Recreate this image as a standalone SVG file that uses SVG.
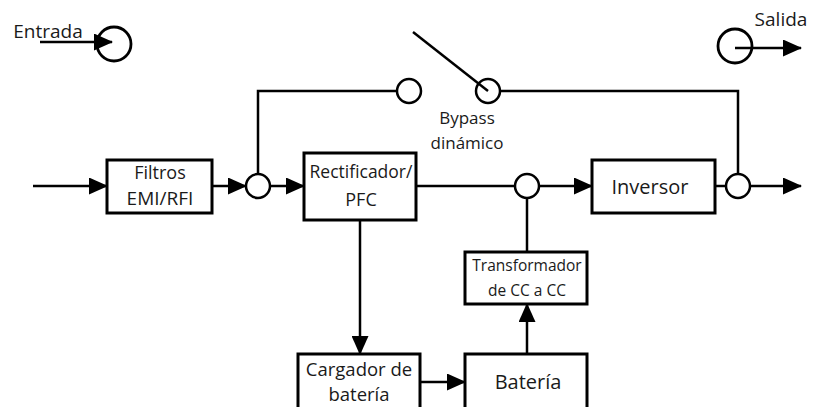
<svg xmlns="http://www.w3.org/2000/svg" width="814" height="407" viewBox="0 0 814 407">
<defs>
<marker id="ah" markerWidth="19" markerHeight="17" refX="18" refY="8.5" orient="auto" markerUnits="userSpaceOnUse">
<path d="M0,0 L19,8.5 L0,17 Z" fill="#000"/>
</marker>
<style>
.box{fill:#fff;stroke:#000;stroke-width:3}
.ln{fill:none;stroke:#000;stroke-width:2.5}
.nd{fill:#fff;stroke:#000;stroke-width:2.5}
.ring{fill:none;stroke:#000;stroke-width:2.8}
text{font-family:"Open Sans","Liberation Sans",sans-serif;font-size:18px;fill:#1a1a1a;text-anchor:middle}
</style>
</defs>
<rect width="814" height="407" fill="#fff"/>
<g id="connectors">
<line class="ln" x1="40" y1="42" x2="112" y2="42" marker-end="url(#ah)"/>
<line class="ln" x1="735" y1="48" x2="801" y2="48" marker-end="url(#ah)"/>
<line class="ln" x1="33" y1="186" x2="107" y2="186" marker-end="url(#ah)"/>
<line class="ln" x1="212" y1="186" x2="246" y2="186" marker-end="url(#ah)"/>
<line class="ln" x1="270" y1="186" x2="304" y2="186" marker-end="url(#ah)"/>
<polyline class="ln" points="258,174 258,91 397,91"/>
<line class="ln" x1="416" y1="186" x2="514" y2="186"/>
<line class="ln" x1="539" y1="186" x2="592" y2="186" marker-end="url(#ah)"/>
<line class="ln" x1="715" y1="186" x2="726" y2="186"/>
<line class="ln" x1="750" y1="186" x2="801" y2="186" marker-end="url(#ah)"/>
<polyline class="ln" points="500,91 738,91 738,174"/>
<line class="ln" x1="360" y1="220" x2="360" y2="354" marker-end="url(#ah)"/>
<line class="ln" x1="420" y1="382" x2="465" y2="382" marker-end="url(#ah)"/>
<line class="ln" x1="527" y1="354" x2="527" y2="304" marker-end="url(#ah)"/>
<line class="ln" x1="527" y1="252" x2="527" y2="198"/>
</g>
<g id="entrada">
<circle class="ring" cx="114" cy="44" r="17"/>
<text x="48" y="38" style="font-size:19px">Entrada</text>
</g>
<g id="salida">
<circle class="ring" cx="735" cy="46" r="17"/>
<text x="781" y="26" style="font-size:19px">Salida</text>
</g>
<g id="node-j1"><circle class="nd" cx="258" cy="186" r="12"/></g>
<g id="node-j2"><circle class="nd" cx="527" cy="186" r="12"/></g>
<g id="node-j3"><circle class="nd" cx="738" cy="186" r="12"/></g>
<g id="bypass-a"><circle class="nd" cx="409" cy="91" r="12"/></g>
<g id="bypass-b"><circle class="nd" cx="488" cy="91" r="12"/>
<line class="ln" x1="413" y1="32" x2="488" y2="91"/>
<text x="467" y="124" style="font-size:17px">Bypass</text>
<text x="467" y="149" style="font-size:17px">dinámico</text>
</g>
<g id="filtros">
<rect class="box" x="107" y="160" width="105" height="53"/>
<text x="160" y="179">Filtros</text>
<text x="160" y="205" style="font-size:19px">EMI/RFI</text>
</g>
<g id="rectificador">
<rect class="box" x="304" y="153" width="112" height="67"/>
<text x="361" y="178" style="font-size:17.5px">Rectificador/</text>
<text x="361" y="206">PFC</text>
</g>
<g id="inversor">
<rect class="box" x="592" y="160" width="123" height="53"/>
<text x="650" y="194" style="font-size:20px">Inversor</text>
</g>
<g id="transformador">
<rect class="box" x="465" y="252" width="122" height="52"/>
<text x="527" y="271" style="font-size:15.5px">Transformador</text>
<text x="527" y="296" style="font-size:15.5px">de CC a CC</text>
</g>
<g id="cargador">
<rect class="box" x="298" y="354" width="122" height="56"/>
<text x="359" y="376" style="font-size:18.5px">Cargador de</text>
<text x="359" y="401" style="font-size:18.5px">batería</text>
</g>
<g id="bateria">
<rect class="box" x="465" y="354" width="122" height="56"/>
<text x="528" y="389" style="font-size:20px">Batería</text>
</g>
</svg>
